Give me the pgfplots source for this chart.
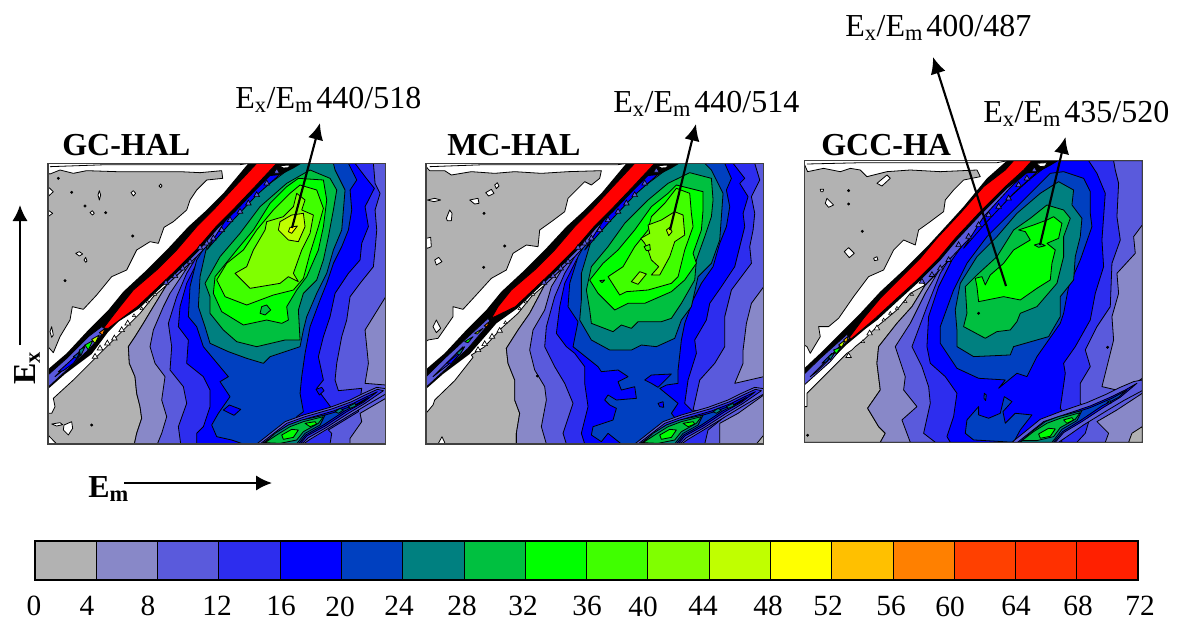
\documentclass[border=0pt]{standalone}
\usepackage{fontspec}
\setmainfont{Liberation Serif}
\usepackage{pgfplots}
\pgfplotsset{compat=1.18}
\usetikzlibrary{arrows.meta}
\definecolor{c0}{HTML}{B2B2B2}
\definecolor{c1}{HTML}{8888C8}
\definecolor{c2}{HTML}{5A5ADC}
\definecolor{c3}{HTML}{2D2DEE}
\definecolor{c4}{HTML}{0000FF}
\definecolor{c5}{HTML}{0040C0}
\definecolor{c6}{HTML}{008080}
\definecolor{c7}{HTML}{00C040}
\definecolor{c8}{HTML}{00FF00}
\definecolor{c9}{HTML}{40FF00}
\definecolor{c10}{HTML}{80FF00}
\definecolor{c11}{HTML}{C0FF00}
\definecolor{c12}{HTML}{FFFF00}
\definecolor{c13}{HTML}{FFC000}
\definecolor{c14}{HTML}{FF8000}
\definecolor{c15}{HTML}{FF4000}
\definecolor{c16}{HTML}{FF3000}
\definecolor{c17}{HTML}{FF2000}
\newcommand{\lv}[2]{\addplot[fill=#1,draw=black,line width=.6pt,line join=round,no markers] coordinates {#2} --cycle;}
\newcommand{\nl}[2]{\addplot[fill=#1,draw=none,no markers] coordinates {#2} --cycle;}
\newcommand{\ol}[1]{\addplot[draw=black,line width=.6pt,no markers] coordinates {#1};}
\newcommand{\specks}[1]{\addplot[only marks,mark=*,mark size=.9pt,mark options={fill=black,draw=black}] coordinates {#1};}
\newcommand{\tris}[2]{\addplot[only marks,mark=triangle*,mark size=2.4pt,mark options={fill=#1,draw=black,line width=.5pt}] coordinates {#2};}
\pgfplotsset{panel/.style={scale only axis,xtick=\empty,ytick=\empty,y dir=reverse,axis on top,enlargelimits=false,anchor=north west,axis line style={line width=.8pt,draw=black!75}}}
\newcommand{\streakAB}{%
\lv{c2}{(650,882)(735,815)(790,795)(870,772)(930,750)(970,730)(1010,712)(1037,716)(1037,732)(980,765)(930,795)(860,838)(810,868)(790,882)}
\lv{c3}{(660,882)(740,820)(795,800)(875,777)(935,755)(975,735)(1012,718)(1030,722)(975,760)(925,790)(858,833)(805,863)(785,882)}
\lv{c4}{(665,882)(745,825)(800,806)(880,783)(940,760)(980,740)(1012,725)(970,757)(920,785)(855,828)(800,858)(780,882)}
\lv{c5}{(668,882)(748,828)(803,810)(880,788)(945,765)(985,742)(965,757)(915,782)(850,825)(797,855)(775,882)}
\lv{c6}{(670,882)(705,850)(745,825)(785,810)(855,795)(840,825)(795,850)(775,875)(770,882)}
\lv{c7}{(675,878)(710,855)(750,830)(790,815)(850,800)(835,820)(790,845)(770,870)(720,880)}
\lv{c8}{(725,855)(755,838)(775,840)(760,862)(730,868)}
\lv{c8}{(795,820)(825,815)(830,822)(810,830)}
\lv{c6}{(885,785)(900,775)(910,780)(895,790)}
\lv{c6}{(925,770)(945,760)(948,768)(930,775)}
}
\begin{document}
\begin{tikzpicture}
\path[use as bounding box] (0,0) rectangle (888pt,469.5pt);
%% ---------- GC-HAL
\begin{axis}[panel,at={(36pt,347pt)},width=253.3pt,height=210.5pt,xmin=24,xmax=1037,ymin=40,ymax=882]
\ol{(30,50)(200,44)(600,44)(628,40)}
\lv{c0}{(30,72)(60,60)(100,70)(140,62)(230,65)(320,65)(420,65)(480,68)(545,62)(548,85)(500,90)(470,120)(450,150)(440,180)(400,215)(372,232)(355,280)(330,275)(290,300)(260,360)(215,380)(170,435)(130,478)(97,470)(90,510)(60,560)(40,608)(24,590)(24,70)}
\lv{c0}{(24,790)(35,790)(45,770)(40,745)(100,690)(165,625)(200,590)(255,535)(300,490)(340,440)(380,405)(340,470)(310,520)(285,560)(265,590)(268,640)(285,680)(290,730)(300,770)(305,805)(290,850)(283,882)(24,882)}
\lv{white}{(24,110)(40,125)(24,140)}
\lv{white}{(24,180)(38,190)(24,200)}
\lv{white}{(273,128)(280,122)(287,130)(280,138)}
\lv{white}{(150,188)(157,182)(163,190)(157,195)}
\lv{white}{(107,310)(118,305)(128,312)(118,318)}
\lv{white}{(132,330)(137,322)(141,333)(137,337)}
\lv{white}{(357,108)(362,102)(366,108)(362,113)}
\lv{white}{(174,135)(178,122)(182,135)(178,150)}
\lv{white}{(30,545)(35,530)(40,555)(35,562)}
\lv{white}{(35,822)(60,818)(68,824)(50,828)}
\lv{white}{(72,825)(95,815)(98,835)(85,855)(70,840)}
\lv{white}{(24,855)(50,882)(24,882)}
\specks{(55,85)(95,127)(135,168)(197,188)(75,392)(278,258)(155,825)}
\lv{c1}{(380,405)(340,470)(310,520)(285,560)(265,590)(268,640)(285,680)(290,730)(300,770)(305,805)(290,850)(283,882)(1037,882)(1037,40)(760,40)}
\lv{c2}{(470,310)(390,430)(370,470)(340,540)(330,590)(345,640)(375,680)(365,750)(380,800)(365,850)(352,882)(930,882)(930,865)(965,815)(960,790)(1037,745)(1037,705)(975,700)(985,640)(975,540)(1037,440)(1037,40)(760,40)}
\lv{c3}{(500,270)(440,370)(410,440)(385,520)(395,590)(390,660)(430,710)(440,760)(415,830)(422,882)(870,882)(875,850)(865,840)(955,785)(965,715)(895,722)(885,690)(890,640)(905,560)(920,510)(930,440)(960,400)(1000,350)(1005,300)(1010,240)(1005,180)(1020,130)(1005,100)(1000,40)(760,40)}
\lv{c4}{(540,235)(480,320)(440,400)(420,470)(415,530)(445,570)(440,640)(490,680)(510,720)(510,770)(490,830)(470,850)(470,882)(780,882)(810,855)(875,775)(830,715)(850,690)(835,620)(850,560)(870,500)(885,430)(925,370)(960,330)(965,280)(985,230)(975,170)(1003,115)(975,80)(945,40)(760,40)}
\lv{c5}{(590,170)(520,250)(470,330)(450,410)(445,500)(470,530)(490,590)(540,650)(565,680)(540,695)(570,740)(535,790)(515,825)(530,860)(575,870)(610,882)(760,882)(770,800)(790,785)(780,730)(785,680)(795,610)(810,530)(840,450)(860,400)(880,340)(905,290)(925,240)(935,180)(930,120)(950,90)(925,40)(760,40)}
\lv{c4}{(550,780)(568,765)(602,778)(582,796)}
\lv{c4}{(828,718)(845,712)(852,722)(838,735)}
\lv{c6}{(640,110)(560,200)(500,290)(480,380)(475,470)(495,530)(510,580)(565,605)(620,625)(670,640)(690,620)(780,590)(790,540)(800,500)(830,430)(860,370)(880,300)(905,240)(915,120)(885,60)(880,40)(760,40)(720,70)}
\lv{c7}{(810,60)(870,85)(890,120)(880,180)(865,260)(850,330)(830,390)(790,430)(775,480)(780,570)(735,570)(650,590)(590,575)(550,540)(510,490)(510,440)(495,400)(540,320)(600,250)(660,170)(740,100)}
\lv{c8}{(775,85)(850,90)(860,150)(850,230)(835,300)(800,380)(770,420)(740,470)(745,510)(725,520)(680,510)(610,525)(545,485)(520,430)(525,380)(590,300)(640,240)(690,160)(740,110)}
\lv{c7}{(665,470)(680,465)(692,480)(675,495)(660,490)}
\lv{c9}{(780,105)(830,120)(850,175)(835,230)(810,310)(790,385)(760,420)(700,435)(620,465)(555,440)(530,390)(560,340)(610,300)(650,240)(700,180)(750,130)}
\lv{c10}{(770,130)(795,150)(785,180)(820,195)(810,250)(785,300)(760,370)(775,395)(745,380)(720,400)(630,415)(585,370)(620,350)(640,300)(675,240)(680,215)(730,200)(760,170)}
\lv{c11}{(755,195)(790,190)(795,230)(775,275)(745,270)(715,240)(720,215)}
\lv{c12}{(750,232)(772,228)(755,250)(745,245)}
%% diagonal
\lv{c2}{(380,405)(470,320)(560,225)(650,130)(770,40)(700,40)(620,125)(530,220)(440,305)(365,385)}
\lv{c4}{(500,300)(570,220)(650,135)(740,55)(775,40)(725,40)(640,120)(560,205)}
\nl{black}{(24,658)(80,610)(145,540)(205,480)(250,425)(320,360)(380,300)(445,230)(500,180)(550,130)(625,40)(785,40)(760,55)(720,75)(690,78)(648,120)(586,185)(534,235)(474,305)(414,365)(350,425)(298,475)(235,515)(205,545)(155,612)(75,672)(24,717)}
\lv{white}{(718,47)(750,45)(745,53)(730,54)}
\lv{red}{(190,535)(240,470)(280,420)(350,360)(410,300)(470,230)(520,180)(580,115)(650,40)(710,40)(640,115)(578,180)(528,230)(468,300)(408,360)(345,420)(292,470)(205,535)}
\lv{c2}{(24,675)(80,625)(145,560)(185,530)(198,538)(150,595)(75,665)(24,712)}
\lv{c3}{(45,680)(95,630)(135,585)(115,625)(70,660)}
\lv{c4}{(55,665)(105,620)(125,605)(100,640)(70,662)}
\lv{c5}{(100,620)(120,605)(110,625)}
\lv{c6}{(118,600)(135,590)(122,618)}
\lv{c8}{(135,585)(158,572)(145,600)}
\lv{c11}{(155,568)(178,555)(165,580)}
\lv{c14}{(178,548)(195,535)(188,555)}
\tris{white}{(165,620)(180,595)(202,580)(223,565)(245,540)(263,520)}
\tris{c2}{(378,398)(405,378)(428,355)(450,335)(480,293)(500,280)(520,265)(545,240)(570,210)(600,185)(625,160)(650,135)(680,100)(710,65)}
\addplot[only marks,mark=triangle*,mark size=1.4pt,mark options={fill=white,draw=black,line width=.4pt}] coordinates {(282,497)(305,476)(323,456)(345,433)};
\streakAB
\end{axis}
%% ---------- MC-HAL
\begin{axis}[panel,at={(319.5pt,347pt)},width=253.3pt,height=210.5pt,xmin=24,xmax=1037,ymin=40,ymax=882]
\ol{(35,50)(200,44)(600,44)(628,40)}
\lv{c0}{(35,62)(80,62)(100,75)(160,65)(230,70)(290,65)(370,70)(450,65)(550,62)(545,85)(520,105)(500,95)(470,125)(450,145)(440,185)(400,215)(365,240)(360,290)(325,285)(285,310)(265,360)(220,385)(170,440)(135,478)(105,470)(105,500)(60,565)(30,570)(24,575)(24,50)}
\lv{c0}{(24,790)(45,765)(50,750)(110,692)(165,622)(160,615)(200,590)(250,535)(300,490)(340,440)(380,405)(335,490)(300,540)(265,595)(270,640)(290,690)(290,750)(305,790)(295,850)(295,882)(24,882)}
\lv{white}{(28,150)(50,145)(68,150)(48,155)}
\lv{white}{(155,150)(180,145)(183,160)(170,162)}
\lv{white}{(203,128)(220,118)(228,130)(212,138)}
\lv{white}{(230,105)(238,98)(243,108)(235,116)}
\lv{white}{(85,205)(95,180)(102,190)(100,212)(88,212)}
\lv{white}{(24,265)(38,262)(40,290)(28,295)(24,290)}
\lv{white}{(50,330)(62,322)(72,335)(55,345)}
\lv{white}{(45,530)(55,510)(68,535)(55,548)}
\lv{white}{(60,882)(72,860)(82,882)}
\specks{(198,190)(260,288)(197,352)(358,678)}
\lv{c1}{(380,405)(335,490)(300,540)(265,595)(270,640)(290,690)(290,750)(305,790)(295,850)(295,882)(1037,882)(1037,40)(760,40)}
\lv{c0}{(1015,882)(1037,855)(1037,882)}
\lv{c2}{(440,345)(400,410)(380,480)(345,540)(335,600)(350,660)(380,710)(385,750)(370,830)(385,882)(905,882)(905,820)(960,790)(1037,735)(1037,680)(950,700)(975,640)(975,600)(985,520)(1000,460)(1037,410)(1037,40)(760,40)}
\lv{c3}{(500,270)(440,370)(410,440)(385,530)(380,590)(410,650)(440,700)(465,760)(435,850)(445,882)(860,882)(870,840)(920,800)(825,780)(845,690)(890,640)(920,590)(920,500)(940,420)(1000,340)(995,290)(1005,240)(1010,190)(1000,140)(1025,90)(1010,40)(760,40)}
\lv{c4}{(540,235)(475,330)(440,400)(425,470)(415,550)(445,590)(470,610)(500,650)(500,700)(510,770)(490,850)(500,882)(795,882)(790,830)(825,785)(800,760)(810,690)(835,610)(830,570)(865,510)(875,460)(910,410)(950,350)(965,290)(980,230)(975,190)(990,140)(965,100)(980,85)(945,40)(760,40)}
\lv{c5}{(590,170)(520,250)(480,320)(455,400)(450,470)(480,515)(465,590)(490,610)(540,650)(550,665)(600,660)(630,680)(600,695)(610,720)(650,710)(655,745)(595,750)(570,735)(560,750)(575,765)(595,775)(585,810)(525,830)(520,855)(550,875)(570,850)(610,882)(760,882)(790,830)(760,790)(780,760)(725,715)(745,705)(780,700)(780,660)(790,570)(800,520)(825,450)(850,400)(885,350)(905,280)(925,230)(935,170)(925,120)(940,85)(920,40)(760,40)}
\lv{c4}{(680,690)(700,675)(760,672)(720,712)(700,700)}
\lv{c4}{(720,760)(735,755)(737,772)(725,770)}
\lv{c6}{(660,90)(590,170)(520,270)(490,370)(490,450)(485,510)(520,570)(575,600)(640,600)(670,585)(715,590)(770,565)(790,510)(820,470)(840,380)(880,340)(905,270)(915,130)(880,60)(860,40)(760,40)(720,70)}
\lv{c7}{(815,68)(880,85)(885,150)(880,200)(860,260)(835,330)(830,390)(790,460)(760,505)(730,515)(660,515)(640,535)(610,525)(585,545)(520,520)(515,480)(505,420)(520,350)(570,290)(620,220)(690,150)(750,100)}
\lv{c8}{(775,105)(855,125)(855,180)(850,240)(825,310)(835,340)(800,390)(760,425)(680,460)(630,460)(590,480)(540,430)(515,390)(555,340)(600,300)(650,240)(700,170)(750,130)}
\lv{c7}{(545,392)(560,390)(552,398)}
\lv{c9}{(775,115)(815,130)(820,190)(825,230)(800,300)(780,380)(760,400)(690,420)(625,425)(605,435)(570,380)(615,350)(650,290)(690,240)(700,200)(740,160)}
\lv{c10}{(690,225)(730,210)(770,185)(795,195)(800,255)(770,275)(755,320)(725,375)(700,375)(722,350)(700,330)(690,300)(680,280)(668,265)(695,250)}
\lv{c9}{(678,290)(695,283)(697,300)(685,302)}
\lv{c10}{(640,395)(665,365)(685,372)(660,403)}
\lv{c11}{(745,240)(755,232)(762,245)(752,257)}
%% diagonal
\lv{c2}{(380,405)(470,320)(560,225)(650,130)(770,40)(700,40)(620,125)(530,220)(440,305)(365,385)}
\lv{c4}{(500,300)(570,220)(650,135)(740,55)(775,40)(725,40)(640,120)(560,205)}
\nl{black}{(24,658)(80,610)(145,540)(205,480)(250,425)(320,360)(380,300)(445,230)(500,180)(550,130)(625,40)(785,40)(760,55)(720,75)(690,78)(648,120)(586,185)(534,235)(474,305)(414,365)(350,425)(298,475)(235,520)(205,555)(155,612)(75,672)(24,717)}
\lv{white}{(718,47)(750,45)(745,53)(730,54)}
\lv{red}{(220,505)(240,470)(280,420)(350,360)(410,300)(470,230)(520,180)(580,115)(650,40)(710,40)(640,115)(578,180)(528,230)(468,300)(408,360)(345,420)(292,470)}
\lv{c2}{(24,680)(80,625)(145,565)(210,505)(218,515)(150,595)(75,665)(24,712)}
\lv{c3}{(45,680)(95,630)(135,590)(115,625)(70,660)}
\lv{c4}{(85,640)(110,620)(135,598)(125,612)(100,640)}
\lv{c6}{(115,610)(140,590)(125,615)}
\lv{c8}{(140,575)(165,560)(150,578)}
\lv{c11}{(170,550)(195,535)(178,552)}
\lv{c14}{(198,528)(215,514)(207,530)}
\tris{white}{(180,600)(200,582)(222,560)(245,542)}
\tris{c2}{(378,398)(405,378)(428,355)(450,335)(480,293)(500,280)(520,265)(545,240)(570,210)(600,185)(625,160)(650,135)(680,100)(715,62)}
\addplot[only marks,mark=triangle*,mark size=1.4pt,mark options={fill=white,draw=black,line width=.4pt}] coordinates {(262,518)(305,476)(323,456)(345,433)};
\streakAB
\end{axis}
%% ---------- GCC-HA
\begin{axis}[panel,at={(603.2pt,349pt)},width=253.5pt,height=211.2pt,xmin=22,xmax=1036,ymin=32,ymax=877]
\ol{(30,42)(200,38)(600,38)(628,33)}
\lv{c0}{(32,65)(80,55)(130,65)(160,55)(190,60)(210,80)(270,65)(340,60)(430,65)(540,60)(550,80)(500,90)(470,120)(445,150)(440,185)(400,215)(365,240)(355,285)(320,270)(290,300)(260,360)(215,380)(170,440)(125,505)(95,530)(65,530)(70,560)(40,610)(30,590)(22,585)(22,42)}
\lv{c0}{(22,770)(30,770)(30,730)(110,650)(150,610)(165,600)(175,590)(200,570)(240,530)(300,480)(340,430)(385,405)(345,470)(300,520)(245,590)(240,640)(250,720)(212,775)(245,830)(265,850)(250,877)(22,877)}
\lv{white}{(240,100)(270,75)(280,85)(255,108)}
\lv{white}{(90,145)(110,165)(95,172)(85,160)}
\lv{white}{(142,305)(155,293)(172,310)(157,323)}
\lv{white}{(230,325)(240,320)(243,330)(233,332)}
\lv{white}{(70,118)(80,118)(78,125)(72,125)}
\specks{(155,122)(155,162)(196,244)(32,856)}
\lv{c1}{(385,405)(345,470)(300,520)(245,590)(240,640)(250,720)(212,775)(245,830)(265,850)(250,877)(1036,877)(1036,32)(760,32)}
\lv{c0}{(995,877)(1005,850)(1036,830)(1036,877)}
\lv{c2}{(430,355)(385,430)(340,520)(295,590)(325,680)(320,720)(360,770)(315,810)(340,877)(925,877)(935,850)(900,815)(960,780)(1036,730)(1036,685)(980,725)(915,710)(950,570)(945,500)(965,430)(960,370)(1015,310)(1010,260)(1036,225)(1036,32)(760,32)}
\specks{(932,592)}
\lv{c3}{(480,290)(430,370)(390,470)(345,590)(375,650)(395,710)(400,760)(380,850)(415,877)(840,877)(865,850)(880,800)(850,760)(850,700)(880,650)(865,600)(900,530)(940,470)(945,340)(970,270)(960,200)(965,100)(955,60)(950,32)(760,32)}
\lv{c4}{(530,240)(465,330)(425,410)(395,500)(390,590)(400,640)(445,680)(480,730)(470,800)(450,860)(460,877)(795,877)(790,850)(815,810)(790,775)(805,670)(800,640)(835,590)(880,510)(895,430)(920,350)(915,270)(925,130)(900,70)(875,32)(760,32)}
\lv{c5}{(800,65)(860,85)(880,125)(880,190)(885,230)(850,330)(815,410)(800,490)(790,520)(720,620)(690,680)(660,670)(605,715)(625,690)(545,685)(480,655)(430,580)(430,530)(470,420)(510,340)(570,260)(640,190)(720,110)(760,70)}
\lv{c5}{(510,810)(545,770)(545,795)(575,805)(610,790)(622,740)(645,755)(618,785)(625,820)(655,790)(705,795)(670,840)(650,877)(530,870)(505,850)}
\lv{c5}{(562,730)(568,735)(566,752)(561,745)}
\lv{c6}{(785,95)(830,120)(825,165)(855,205)(850,260)(835,320)(830,390)(790,440)(790,500)(755,560)(650,590)(640,615)(530,620)(480,590)(480,540)(475,480)(490,400)(540,320)(600,260)(660,190)(730,130)}
\lv{c7}{(750,165)(800,180)(820,205)(800,260)(800,320)(780,400)(720,470)(670,490)(660,515)(640,540)(600,545)(565,565)(500,530)(510,490)(505,410)(540,375)(600,320)(650,240)(700,205)}
\lv{c8}{(770,200)(795,220)(785,265)(750,280)(775,300)(765,340)(760,390)(720,415)(670,450)(620,440)(545,455)(540,410)(535,385)(555,380)(565,405)(580,375)(620,340)(650,300)(700,270)(685,245)(665,240)(710,225)(750,210)}
\lv{c7}{(712,285)(730,280)(745,287)(725,292)}
\specks{(545,490)}
%% diagonal
\lv{c2}{(385,405)(470,315)(560,220)(650,125)(770,32)(700,32)(620,118)(530,213)(440,300)(365,385)}
\lv{c4}{(500,295)(570,215)(650,130)(740,48)(775,32)(725,32)(640,113)(560,200)}
\nl{black}{(22,655)(70,610)(130,550)(190,490)(250,425)(320,360)(395,285)(450,225)(500,170)(570,85)(630,32)(785,32)(760,47)(720,68)(690,70)(631,115)(551,195)(481,270)(431,330)(361,400)(306,450)(241,510)(205,537)(150,583)(90,643)(22,697)}
\lv{white}{(718,40)(750,38)(745,48)(730,50)}
\lv{red}{(155,565)(200,505)(250,445)(300,395)(370,325)(420,265)(490,190)(560,110)(625,60)(650,32)(705,32)(680,60)(625,110)(545,190)(475,265)(425,325)(355,395)(300,445)(235,505)(165,565)}
\lv{c2}{(22,672)(70,625)(150,553)(158,565)(100,635)(22,705)}
\lv{c3}{(40,680)(90,630)(150,565)(100,625)(60,665)}
\lv{c5}{(75,640)(105,610)(90,635)}
\lv{c6}{(95,620)(115,605)(100,630)}
\lv{c8}{(110,600)(132,592)(118,612)}
\lv{c11}{(125,585)(145,570)(135,592)}
\lv{c13}{(140,570)(155,558)(148,578)}
\tris{white}{(155,618)(240,535)(218,550)}
\tris{c2}{(375,395)(405,375)(430,355)(455,330)(485,285)(515,260)(545,225)(575,195)(605,170)(635,145)(665,105)(690,85)(712,60)}
\addplot[only marks,mark=triangle*,mark size=1.4pt,mark options={fill=white,draw=black,line width=.4pt}] coordinates {(198,575)(260,510)(280,490)(300,475)(325,455)(345,433)};
%% streak
\lv{c2}{(645,877)(730,808)(790,785)(870,758)(930,732)(970,712)(1010,695)(1036,690)(1036,722)(980,752)(930,782)(860,825)(810,860)(785,877)}
\lv{c4}{(662,877)(740,815)(800,795)(880,768)(940,742)(985,720)(1020,700)(970,742)(920,772)(855,815)(800,848)(775,877)}
\lv{c5}{(668,877)(745,818)(803,798)(880,773)(945,745)(990,720)(965,742)(915,768)(850,812)(797,845)(770,877)}
\lv{c6}{(670,877)(705,845)(745,815)(785,800)(855,782)(840,812)(795,838)(775,865)(765,877)}
\lv{c7}{(675,872)(710,845)(750,820)(790,805)(850,788)(835,808)(790,833)(770,860)(720,872)}
\lv{c8}{(725,852)(755,835)(775,837)(760,859)(730,865)}
\lv{c8}{(800,810)(825,803)(830,810)(810,820)}
\lv{c6}{(930,757)(940,752)(942,760)}
\end{axis}
%% ---------- colour scale
\begin{axis}[scale only axis,at={(26.25pt,34.5pt)},anchor=south west,width=827.25pt,height=29.25pt,xmin=0,xmax=72,ymin=0,ymax=1,xtick=\empty,ytick=\empty,axis on top,enlargelimits=false,axis line style={line width=.8pt,draw=black}]
\lv{c0}{(0,0)(4,0)(4,1)(0,1)}
\lv{c1}{(4,0)(8,0)(8,1)(4,1)}
\lv{c2}{(8,0)(12,0)(12,1)(8,1)}
\lv{c3}{(12,0)(16,0)(16,1)(12,1)}
\lv{c4}{(16,0)(20,0)(20,1)(16,1)}
\lv{c5}{(20,0)(24,0)(24,1)(20,1)}
\lv{c6}{(24,0)(28,0)(28,1)(24,1)}
\lv{c7}{(28,0)(32,0)(32,1)(28,1)}
\lv{c8}{(32,0)(36,0)(36,1)(32,1)}
\lv{c9}{(36,0)(40,0)(40,1)(36,1)}
\lv{c10}{(40,0)(44,0)(44,1)(40,1)}
\lv{c11}{(44,0)(48,0)(48,1)(44,1)}
\lv{c12}{(48,0)(52,0)(52,1)(48,1)}
\lv{c13}{(52,0)(56,0)(56,1)(52,1)}
\lv{c14}{(56,0)(60,0)(60,1)(56,1)}
\lv{c15}{(60,0)(64,0)(64,1)(60,1)}
\lv{c16}{(64,0)(68,0)(68,1)(64,1)}
\lv{c17}{(68,0)(72,0)(72,1)(68,1)}
\end{axis}
%% ---------- texts and arrows
\begin{axis}[scale only axis,at={(0pt,0pt)},anchor=south west,width=888pt,height=469.5pt,xmin=0,xmax=1184,ymin=0,ymax=626,y dir=reverse,hide axis,clip=false]
\tikzset{lab/.style={anchor=base west,inner sep=0pt,font=\fontsize{24}{26}\selectfont},
 ttl/.style={anchor=base west,inner sep=0pt,font=\fontsize{24}{26}\selectfont\bfseries},
 tk/.style={anchor=base,inner sep=0pt,font=\fontsize{22}{24}\selectfont}}
\node[lab] at (axis cs:235,108) {E\textsubscript{x}/E\textsubscript{m}\hspace{.1em}440/518};
\node[lab] at (axis cs:613,112) {E\textsubscript{x}/E\textsubscript{m}\hspace{.1em}440/514};
\node[lab] at (axis cs:845,36) {E\textsubscript{x}/E\textsubscript{m}\hspace{.1em}400/487};
\node[lab] at (axis cs:983,122) {E\textsubscript{x}/E\textsubscript{m}\hspace{.1em}435/520};
\node[ttl] at (axis cs:62,155) {GC-HAL};
\node[ttl] at (axis cs:447,155) {MC-HAL};
\node[ttl] at (axis cs:821,155) {GCC-HA};
\node[ttl,rotate=90,anchor=base] at (axis cs:35,368) {E\textsubscript{x}};
\node[ttl] at (axis cs:88,497) {E\textsubscript{m}};
\addplot[line width=1.6pt,black,no markers,-{Latex[length=12.5pt,width=11.5pt]}] coordinates {(292,228)(320,123)};
\addplot[line width=1.6pt,black,no markers,-{Latex[length=12.5pt,width=11.5pt]}] coordinates {(670,230)(696,124)};
\addplot[line width=1.6pt,black,no markers,-{Latex[length=12.5pt,width=11.5pt]}] coordinates {(1006,286)(933,57)};
\addplot[line width=1.6pt,black,no markers,-{Latex[length=12.5pt,width=11.5pt]}] coordinates {(1040,245)(1065.5,137)};
\addplot[line width=1.6pt,black,no markers,-{Latex[length=12pt,width=11.5pt]}] coordinates {(20,345)(20,205)};
\addplot[line width=1.6pt,black,no markers,-{Latex[length=12pt,width=11.5pt]}] coordinates {(124,483)(272,483)};
\node[tk] at (axis cs:34,615) {0};
\node[tk] at (axis cs:87,615) {4};
\node[tk] at (axis cs:148,615) {8};
\node[tk] at (axis cs:217,615) {12};
\node[tk] at (axis cs:281,615) {16};
\node[tk] at (axis cs:340,616) {20};
\node[tk] at (axis cs:399,615) {24};
\node[tk] at (axis cs:462,615) {28};
\node[tk] at (axis cs:523,615) {32};
\node[tk] at (axis cs:587,615) {36};
\node[tk] at (axis cs:643,616) {40};
\node[tk] at (axis cs:703,615) {44};
\node[tk] at (axis cs:768,615) {48};
\node[tk] at (axis cs:828,615) {52};
\node[tk] at (axis cs:891,615) {56};
\node[tk] at (axis cs:950,616) {60};
\node[tk] at (axis cs:1016,615) {64};
\node[tk] at (axis cs:1078,615) {68};
\node[tk] at (axis cs:1140,615) {72};
\end{axis}
\end{tikzpicture}
\end{document}
